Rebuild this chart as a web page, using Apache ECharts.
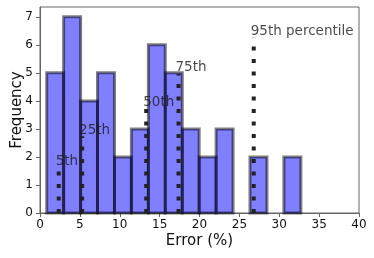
<!DOCTYPE html>
<html><head><meta charset="utf-8">
<script src="https://cdn.jsdelivr.net/npm/echarts@6/dist/echarts.min.js"></script>
<style>html,body{margin:0;padding:0;background:#fff}#c{width:374px;height:258px}</style>
</head><body><div id="c"></div>
<script>
// Histogram bin edges (Error %) and counts
const binEdges = [0.84, 2.96, 5.09, 7.21, 9.34, 11.46, 13.59, 15.71, 17.84, 19.96, 22.08, 24.21, 26.33, 28.46, 30.58, 32.71];
const counts = [5, 7, 4, 5, 2, 3, 6, 5, 3, 2, 3, 0, 2, 0, 2];
// Percentile markers
const pctLabels = ['5th', '25th', '50th', '75th', '95th percentile'];
const pctX = [2.35, 5.28, 13.32, 17.37, 26.8];
const pctH = [1.62, 2.74, 3.72, 4.96, 6.25];
const xTicks = [0, 5, 10, 15, 20, 25, 30, 35, 40];
const yTicks = [0, 1, 2, 3, 4, 5, 6, 7];

const FONT = 'DejaVu Sans';
const barData = counts.map((c, i) => [binEdges[i], binEdges[i + 1], c]);

const series = [{
  type: 'custom',
  data: barData,
  encode: { x: [0, 1], y: 2 },
  z: 2,
  renderItem: function (params, api) {
    const c = api.value(2);
    if (!c) return null;
    const p0 = api.coord([api.value(0), 0]);
    const p1 = api.coord([api.value(1), c]);
    return {
      type: 'rect',
      shape: { x: p0[0], y: p1[1], width: p1[0] - p0[0], height: p0[1] - p1[1] },
      style: { fill: 'rgba(0,0,255,0.5)', stroke: 'rgba(0,0,0,0.5)', lineWidth: 3 }
    };
  }
}];

pctX.forEach((x, i) => {
  series.push({
    type: 'line',
    data: [[x, 0], [x, pctH[i]]],
    showSymbol: false,
    symbol: 'none',
    z: 5,
    silent: true,
    lineStyle: { color: '#222', width: 4, type: [4, 8.5], cap: 'butt' }
  });
  series.push({
    type: 'scatter',
    data: [[x, pctH[i]]],
    symbolSize: 2,
    itemStyle: { color: 'rgba(0,0,0,0)' },
    z: 6,
    silent: true,
    label: {
      show: true,
      formatter: pctLabels[i],
      position: [-2, 2],
      align: 'left',
      verticalAlign: 'bottom',
      color: '#1a1a1a',
      fontFamily: FONT,
      fontSize: 13.5
    }
  });
});

const chart = echarts.init(document.getElementById('c'), null, { renderer: 'canvas' });
chart.setOption({
  animation: false,
  grid: { left: 40, right: 15, top: 7, bottom: 45, show: true, borderColor: '#666', borderWidth: 1, backgroundColor: 'transparent', outerBoundsMode: 'none', containLabel: false },
  xAxis: {
    type: 'value', min: 0, max: 40, interval: 5,
    name: 'Error (%)', nameLocation: 'middle', nameGap: 21, nameMoveOverlap: false,
    nameTextStyle: { fontFamily: FONT, fontSize: 15, color: '#111' },
    axisLine: { show: true, onZero: false, lineStyle: { color: '#666', width: 1 } },
    axisTick: { show: true, length: 4, lineStyle: { color: '#666' } },
    axisLabel: { fontFamily: FONT, fontSize: 12, color: '#111', margin: 6, customValues: xTicks },
    splitLine: { show: false }
  },
  yAxis: {
    type: 'value', min: 0, max: 7.35,
    name: 'Frequency', nameLocation: 'middle', nameGap: 15, nameMoveOverlap: false,
    nameTextStyle: { fontFamily: FONT, fontSize: 15, color: '#111' },
    axisLine: { show: true, lineStyle: { color: '#666', width: 1 } },
    axisTick: { show: true, length: 4, lineStyle: { color: '#666' }, customValues: yTicks },
    axisLabel: { fontFamily: FONT, fontSize: 12, color: '#111', margin: 7, customValues: yTicks },
    splitLine: { show: false }
  },
  series: series
});
</script></body></html>
